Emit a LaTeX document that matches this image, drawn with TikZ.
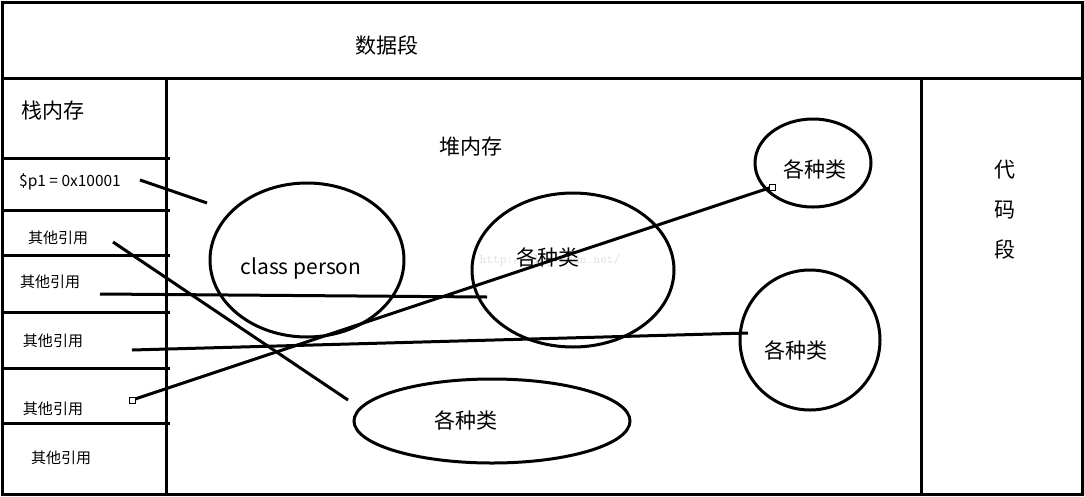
\documentclass[tikz,border=0pt]{standalone}
\usepackage{fontspec}
\setmainfont{Noto Sans CJK SC}
\begin{document}
\begin{tikzpicture}[x=1pt,y=-1pt,
  box/.style={line width=3pt},
  ell/.style={draw,line width=3pt},
  ln/.style={line width=3pt},
  big/.style={font=\fontsize{21}{24}\selectfont},
  sm/.style={font=\fontsize{15}{17}\selectfont}]
\useasboundingbox (0,0) rectangle (1084,496);
\draw[box] (2,2) rectangle (1082,494);
\draw[box] (2,78) -- (1082,78);
\draw[box] (166,78) -- (166,494);
\draw[box] (921,78) -- (921,494);
\foreach \y in {158,210,255,312,368,423} \draw[box] (2,\y) -- (170,\y);
\node[big] (ds) at (387,45) {数据段};
\node[big] (stack) at (53,111) {栈内存};
\node[big] (heap) at (471,147) {堆内存};
\node[big,align=center,font=\fontsize{21}{40}\selectfont] (code) at (1005,210) {代\\码\\段};
\node[text=gray!25,font=\ttfamily\fontsize{13}{15}\selectfont] (wm) at (550,260) {http://blog.csdn.net/};
\node[sm,font=\fontsize{15.5}{17}\selectfont] (p1) at (70,182) {\$p1 = 0x10001};
\node[sm] (r1) at (58,238) {其他引用};
\node[sm] (r2) at (50,282) {其他引用};
\node[sm] (r3) at (53,341) {其他引用};
\node[sm] (r4) at (53,409) {其他引用};
\node[sm] (r5) at (61,458) {其他引用};
\draw[ell] (307,260) ellipse [x radius=97, y radius=77];
\draw[ell] (573,270) ellipse [x radius=101, y radius=77];
\draw[ell] (813,163) ellipse [x radius=58, y radius=44];
\draw[ell] (810,340) ellipse [x radius=70, y radius=70];
\draw[ell] (492,421) ellipse [x radius=138, y radius=42];
\node[big] (cp) at (301,269) {class person};
\node[big] (e1) at (548,257) {各种类};
\node[big] (e2) at (815,169) {各种类};
\node[big] (e3) at (796,350) {各种类};
\node[big] (e4) at (466,420) {各种类};
\coordinate (a1) at (140,180); \coordinate (b1) at (207,203);
\coordinate (a2) at (113,242); \coordinate (b2) at (348,400);
\coordinate (a3) at (100,294); \coordinate (b3) at (487,297);
\coordinate (a4) at (132,350); \coordinate (b4) at (748,333);
\coordinate (a5) at (132,400); \coordinate (b5) at (772,187);
\draw[ln] (a1) -- (b1);
\draw[ln] (a2) -- (b2);
\draw[ln] (a3) -- (b3);
\draw[ln] (a4) -- (b4);
\draw[ln] (a5) -- (b5);
\draw[fill=white,line width=0.6pt] (769,184) rectangle (775,190);
\draw[fill=white,line width=0.6pt] (129,397) rectangle (135,403);
\end{tikzpicture}
\end{document}
